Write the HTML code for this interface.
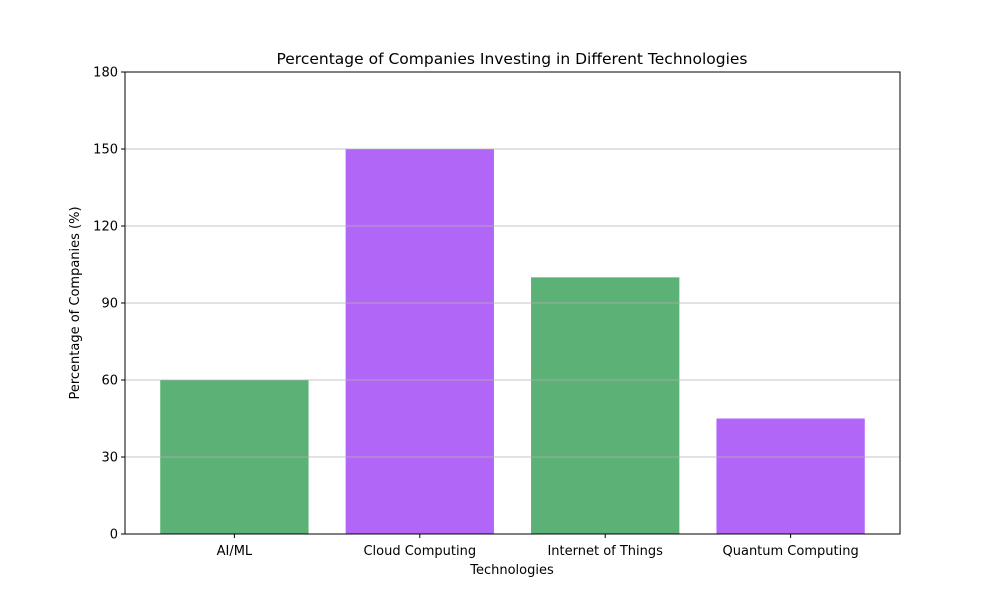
<!DOCTYPE html>
<html><head><meta charset="utf-8"><style>
body{margin:0;background:#fff;}
svg text{font-family:"DejaVu Sans","Liberation Sans",sans-serif;fill:#000;}
</style></head><body>
<svg id="chart" width="1000" height="600" viewBox="0 0 1000 600">
<rect width="1000" height="600" fill="#fff"/>
<g id="bars"></g>
<g id="grid"></g>
<g id="yticks"></g>
<g id="xticks"></g>
<rect x="125" y="72" width="775" height="462" fill="none" stroke="#000" stroke-width="1"/>
<text x="512" y="64" text-anchor="middle" font-size="15.5">Percentage of Companies Investing in Different Technologies</text>
<text x="512" y="574" text-anchor="middle" font-size="13">Technologies</text>
<text transform="translate(79,303) rotate(-90)" text-anchor="middle" font-size="13">Percentage of Companies (%)</text>
</svg>
<script>
const categories=["AI/ML","Cloud Computing","Internet of Things","Quantum Computing"];
const values=[60,150,100,45];
const colors=["#5cb176","#b266f7","#5cb176","#b266f7"];
const yTicks=[0,30,60,90,120,150,180];
const NS="http://www.w3.org/2000/svg";
const L=125,R=900,T=72,B=534,yMax=180;
const n=categories.length;
const xMin=-0.4-0.05*(n-0.2),xMax=n-0.6+0.05*(n-0.2);
const xs=i=>L+(i-xMin)/(xMax-xMin)*(R-L);
const ys=v=>B-v/yMax*(B-T);
const bw=0.8*(R-L)/(xMax-xMin);
function mk(tag,attrs,parent){const e=document.createElementNS(NS,tag);for(const k in attrs)e.setAttribute(k,attrs[k]);document.getElementById(parent).appendChild(e);return e;}
values.forEach((v,i)=>{
 const r=mk('rect',{x:xs(i)-bw/2,y:ys(v),width:bw,height:B-ys(v),fill:colors[i]},'bars');
 
 
 const t=mk('line',{x1:xs(i),x2:xs(i),y1:B,y2:B+4,stroke:'#000'},'xticks');
 
 
 const lb=mk('text',{x:xs(i),y:B+21,'text-anchor':'middle','font-size':13},'xticks');
 lb.textContent=categories[i];
 
 
});
yTicks.forEach(v=>{
 const y=ys(v);
 const g=mk('line',{x1:L,x2:R,y1:y,y2:y,stroke:'#b0b0b0','stroke-width':0.8},'grid');
 
 
 const t=mk('line',{x1:L-4,x2:L,y1:y,y2:y,stroke:'#000'},'yticks');
 
 
 const lb=mk('text',{x:L-7,y:y+4.5,'text-anchor':'end','font-size':13},'yticks');
 lb.textContent=v;
 
 
});
</script>
</body></html>
